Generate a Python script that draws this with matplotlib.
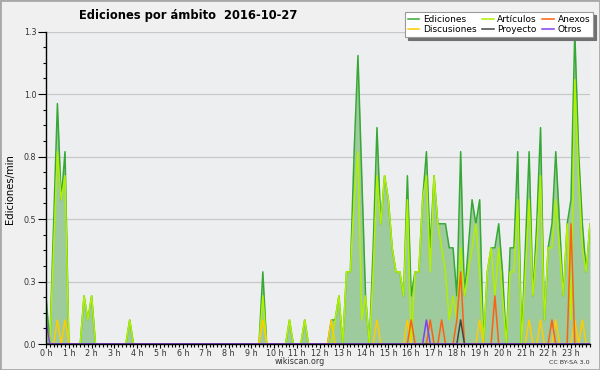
import numpy as np
import matplotlib
matplotlib.use("Agg")
import matplotlib.pyplot as plt
from matplotlib.patches import Rectangle

# ediciones por minuto, tramos de 10 min (144 por dia)
ediciones = [
    0.2, 0.0, 0.5, 1.0, 0.6, 0.8, 0.0, 0.0, 0.0, 0.0, 0.2, 0.1,
    0.2, 0.0, 0.0, 0.0, 0.0, 0.0, 0.0, 0.0, 0.0, 0.0, 0.1, 0.0,
    0.0, 0.0, 0.0, 0.0, 0.0, 0.0, 0.0, 0.0, 0.0, 0.0, 0.0, 0.0,
    0.0, 0.0, 0.0, 0.0, 0.0, 0.0, 0.0, 0.0, 0.0, 0.0, 0.0, 0.0,
    0.0, 0.0, 0.0, 0.0, 0.0, 0.0, 0.0, 0.0, 0.0, 0.3, 0.0, 0.0,
    0.0, 0.0, 0.0, 0.0, 0.1, 0.0, 0.0, 0.0, 0.1, 0.0, 0.0, 0.0,
    0.0, 0.0, 0.0, 0.1, 0.1, 0.2, 0.0, 0.3, 0.3, 0.8, 1.2, 0.7,
    0.2, 0.0, 0.4, 0.9, 0.5, 0.7, 0.6, 0.4, 0.3, 0.3, 0.2, 0.7,
    0.2, 0.3, 0.3, 0.6, 0.8, 0.4, 0.7, 0.5, 0.5, 0.5, 0.4, 0.4,
    0.2, 0.8, 0.2, 0.4, 0.6, 0.5, 0.6, 0.0, 0.3, 0.4, 0.4, 0.5,
    0.3, 0.0, 0.4, 0.4, 0.8, 0.0, 0.4, 0.8, 0.2, 0.5, 0.9, 0.1,
    0.4, 0.5, 0.8, 0.5, 0.2, 0.5, 0.6, 1.3, 0.8, 0.5, 0.3, 0.5,
]

articulos = [
    0.1, 0.0, 0.4, 0.8, 0.6, 0.7, 0.0, 0.0, 0.0, 0.0, 0.2, 0.1,
    0.2, 0.0, 0.0, 0.0, 0.0, 0.0, 0.0, 0.0, 0.0, 0.0, 0.1, 0.0,
    0.0, 0.0, 0.0, 0.0, 0.0, 0.0, 0.0, 0.0, 0.0, 0.0, 0.0, 0.0,
    0.0, 0.0, 0.0, 0.0, 0.0, 0.0, 0.0, 0.0, 0.0, 0.0, 0.0, 0.0,
    0.0, 0.0, 0.0, 0.0, 0.0, 0.0, 0.0, 0.0, 0.0, 0.2, 0.0, 0.0,
    0.0, 0.0, 0.0, 0.0, 0.1, 0.0, 0.0, 0.0, 0.1, 0.0, 0.0, 0.0,
    0.0, 0.0, 0.0, 0.0, 0.1, 0.2, 0.0, 0.3, 0.3, 0.6, 0.8, 0.1,
    0.2, 0.0, 0.3, 0.7, 0.5, 0.7, 0.6, 0.4, 0.3, 0.3, 0.2, 0.6,
    0.0, 0.3, 0.3, 0.6, 0.7, 0.3, 0.7, 0.5, 0.4, 0.3, 0.1, 0.2,
    0.1, 0.4, 0.2, 0.3, 0.4, 0.5, 0.3, 0.0, 0.3, 0.4, 0.2, 0.4,
    0.2, 0.0, 0.3, 0.3, 0.6, 0.0, 0.3, 0.6, 0.2, 0.4, 0.7, 0.1,
    0.4, 0.4, 0.6, 0.4, 0.2, 0.5, 0.1, 1.1, 0.7, 0.4, 0.3, 0.5,
]

# series pequeñas: solo los tramos con ediciones
discusiones_idx = [3, 5, 57, 75, 87, 95, 114, 127, 130, 134, 139, 141]
discusiones_val = [0.1] * 12
anexos_idx = [96, 101, 104, 108, 109, 118, 133, 138]
anexos_val = [0.1, 0.1, 0.1, 0.1, 0.3, 0.2, 0.1, 0.5]
proyecto_idx = [109]
proyecto_val = [0.1]
otros_idx = [0, 100]
otros_val = [0.1, 0.1]

ytick_vals = [0, 0.26, 0.52, 0.78, 1.04, 1.3]
ytick_labels = ["0.0", "0.3", "0.5", "0.8", "1.0", "1.3"]


def serie(idx, val):
    s = np.zeros(144)
    s[idx] = val
    return s


x = np.arange(144)
discusiones = serie(discusiones_idx, discusiones_val)
anexos = serie(anexos_idx, anexos_val)
proyecto = serie(proyecto_idx, proyecto_val)
otros = serie(otros_idx, otros_val)

fig = plt.figure(figsize=(6, 3.7), dpi=100, facecolor="#f0f0f0")
ax = fig.add_axes([46 / 600, 1 - 344 / 370, 544 / 600, 312.5 / 370])
ax.set_facecolor("#eceef0")

ax.fill_between(x, ediciones, color="#9dcb9d", lw=0)
l1, = ax.plot(x, ediciones, color="#36a836", lw=1.1, label="Ediciones")
l2, = ax.plot(x, articulos, color="#b0f000", lw=1.1, label="Artículos")
l3, = ax.plot(x, discusiones, color="#ffcc00", lw=1.1, label="Discusiones")
l4, = ax.plot(x, anexos, color="#ff6010", lw=1.1, label="Anexos")
l5, = ax.plot(x, proyecto, color="#444444", lw=1.1, label="Proyecto")
l6, = ax.plot(x, otros, color="#8040f0", lw=1.1, label="Otros")

ax.set_xlim(0, 143)
ax.set_ylim(0, 1.3)
ax.set_yticks(ytick_vals)
ax.set_yticklabels(ytick_labels)
ax.set_yticks(np.arange(0, 1.3001, 0.065), minor=True)
ax.set_xticks(np.arange(0, 144, 6))
ax.set_xticklabels([f"{h} h" for h in range(24)])
ax.set_xticks(np.arange(0, 144, 1), minor=True)
ax.yaxis.grid(True, color="#c8c8c8", lw=0.9)
ax.set_axisbelow(True)
ax.tick_params(axis="both", which="major", labelsize=5.8, colors="#000000",
               labelcolor="#333333", width=0.8)
ax.tick_params(axis="x", which="major", length=3, pad=0.3)
ax.tick_params(axis="y", which="major", length=6, pad=1)
ax.tick_params(axis="both", which="minor", length=2.2, width=0.8)
for s in ["top", "right"]:
    ax.spines[s].set_visible(False)
ax.spines["left"].set_linewidth(1)
ax.spines["bottom"].set_linewidth(1)

fig.text(188 / 600, 1 - 15 / 370, "Ediciones por ámbito  2016-10-27",
         ha="center", va="center", fontsize=8.3, fontweight="bold")
fig.text(10 / 600, 1 - 189 / 370, "Ediciones/min", rotation=90,
         ha="center", va="center", fontsize=7.2)
fig.text(300 / 600, 1 - 362 / 370, "wikiscan.org", ha="center", va="center",
         fontsize=5.8, color="#333333")
fig.text(590 / 600, 1 - 362 / 370, "CC BY-SA 3.0", ha="right", va="center",
         fontsize=4.6, color="#333333")

leg = fig.legend([l1, l3, l2, l5, l4, l6],
                 ["Ediciones", "Discusiones", "Artículos", "Proyecto", "Anexos", "Otros"],
                 ncol=3, loc="upper right", bbox_to_anchor=(593 / 600, 1 - 12 / 370),
                 fontsize=6.5, frameon=True, fancybox=False,
                 shadow={"color": "#707070", "alpha": 1},
                 handlelength=1.3, handletextpad=0.4, columnspacing=0.6,
                 labelspacing=0.15, borderpad=0.3, borderaxespad=0)
leg.get_frame().set_facecolor("#ffffff")
leg.get_frame().set_edgecolor("#999999")
leg.get_frame().set_linewidth(0.8)

fig.patches.append(Rectangle((0, 0), 1, 1, transform=fig.transFigure, fill=False,
                             edgecolor="#a8a8a8", lw=2))

fig.savefig("out.png", dpi=100, facecolor=fig.get_facecolor())
